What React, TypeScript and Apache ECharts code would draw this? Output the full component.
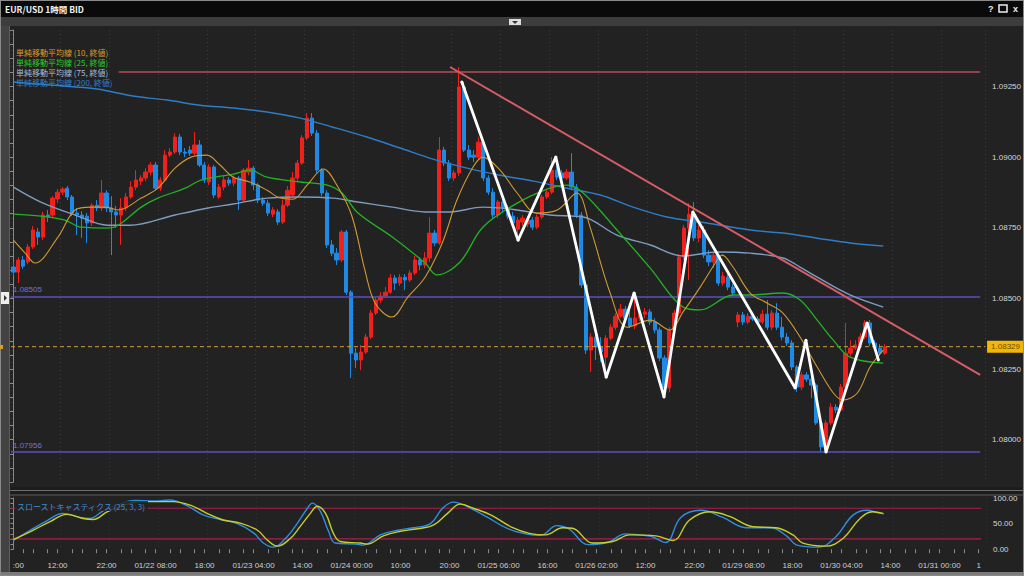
import React, { useEffect, useRef } from "react";
import * as echarts from "echarts";

const SLOTS = 199;
const tickIdx = [1, 9, 19, 29, 39, 49, 59, 69, 79, 89, 99, 109, 119, 129, 139, 149, 159, 169, 179, 189, 197];
const tickText = [":00", "12:00", "22:00", "01/22 08:00", "18:00", "01/23 04:00", "14:00", "01/24 00:00", "10:00", "20:00", "01/25 06:00", "16:00", "01/26 02:00", "12:00", "22:00", "01/29 08:00", "18:00", "01/30 04:00", "14:00", "01/31 00:00", "1"];

// [open, close, low, high]
const candles = [
  [1.08611, 1.08593, 1.08579, 1.08629], [1.08593, 1.08636, 1.08554, 1.08646], [1.08636, 1.08614, 1.08604, 1.0865], [1.08629, 1.08682, 1.08621, 1.08692],
  [1.08682, 1.08742, 1.08675, 1.08756], [1.08735, 1.08717, 1.08689, 1.08749], [1.08717, 1.08795, 1.08706, 1.08806], [1.08795, 1.08788, 1.0877, 1.08813],
  [1.08795, 1.08855, 1.08784, 1.08862], [1.08852, 1.08876, 1.08837, 1.08887], [1.08876, 1.08887, 1.08866, 1.08894], [1.0889, 1.08859, 1.08848, 1.08898],
  [1.08859, 1.08802, 1.08791, 1.08866], [1.08802, 1.08795, 1.08724, 1.0882], [1.08795, 1.08784, 1.08714, 1.08809], [1.08791, 1.08767, 1.08696, 1.08802],
  [1.08767, 1.0883, 1.08756, 1.08837], [1.0883, 1.0882, 1.08809, 1.08848], [1.0882, 1.08873, 1.08809, 1.08919], [1.08873, 1.0882, 1.08806, 1.08883],
  [1.0882, 1.08806, 1.08653, 1.08862], [1.08806, 1.08795, 1.08749, 1.08827], [1.08795, 1.0882, 1.08689, 1.08855], [1.0882, 1.08859, 1.08809, 1.08873],
  [1.08859, 1.08894, 1.08852, 1.08915], [1.08894, 1.08919, 1.08883, 1.08954], [1.08915, 1.08926, 1.08901, 1.08936], [1.08926, 1.08947, 1.08915, 1.08961],
  [1.08947, 1.08972, 1.08936, 1.08983], [1.08972, 1.0889, 1.08883, 1.08983], [1.0889, 1.08919, 1.0888, 1.08929], [1.08919, 1.09007, 1.08912, 1.09025],
  [1.09007, 1.09018, 1.09, 1.09032], [1.09018, 1.09071, 1.09011, 1.09085], [1.09071, 1.09018, 1.09007, 1.09082], [1.09018, 1.09014, 1.09, 1.09032],
  [1.09025, 1.09014, 1.09004, 1.09039], [1.09014, 1.09043, 1.09004, 1.09089], [1.09043, 1.08972, 1.08965, 1.0906], [1.08972, 1.08919, 1.08908, 1.08983],
  [1.08912, 1.08965, 1.08901, 1.08975], [1.08965, 1.08866, 1.08855, 1.08972], [1.08859, 1.08894, 1.08852, 1.08905], [1.08894, 1.08919, 1.08883, 1.08933],
  [1.08919, 1.08908, 1.08898, 1.08929], [1.08908, 1.08926, 1.08898, 1.08936], [1.08926, 1.08848, 1.08813, 1.08933], [1.08848, 1.08954, 1.08841, 1.08961],
  [1.08947, 1.08961, 1.08936, 1.0899], [1.08961, 1.08901, 1.08883, 1.08968], [1.08901, 1.08848, 1.08837, 1.08908], [1.08848, 1.08837, 1.08827, 1.08859],
  [1.08837, 1.08802, 1.08791, 1.08848], [1.08798, 1.08813, 1.08788, 1.08823], [1.08806, 1.0877, 1.0876, 1.08816], [1.0877, 1.0883, 1.08763, 1.08848],
  [1.0883, 1.08883, 1.08823, 1.08898], [1.08866, 1.08926, 1.08859, 1.08947], [1.08926, 1.08979, 1.08915, 1.0899], [1.08979, 1.09068, 1.08972, 1.09078],
  [1.09068, 1.09138, 1.0906, 1.09156], [1.09138, 1.09085, 1.09075, 1.09156], [1.09085, 1.08954, 1.08944, 1.09096], [1.08954, 1.08873, 1.08862, 1.08961],
  [1.08873, 1.08689, 1.08678, 1.08883], [1.08689, 1.0866, 1.0865, 1.08706], [1.0866, 1.08636, 1.08618, 1.08678], [1.08636, 1.08735, 1.08629, 1.08742],
  [1.08735, 1.08522, 1.08512, 1.08742], [1.08522, 1.08306, 1.08218, 1.08529], [1.08306, 1.08282, 1.08253, 1.08324], [1.08282, 1.0831, 1.08246, 1.08335],
  [1.0831, 1.08363, 1.08303, 1.08374], [1.08363, 1.08448, 1.08356, 1.08459], [1.08448, 1.08494, 1.08441, 1.08505], [1.08494, 1.08508, 1.08483, 1.08522],
  [1.08508, 1.08522, 1.08501, 1.0854], [1.08522, 1.08572, 1.08515, 1.08586], [1.08572, 1.08554, 1.08529, 1.08583], [1.08554, 1.08575, 1.08544, 1.08586],
  [1.08575, 1.08565, 1.08529, 1.08586], [1.08565, 1.0859, 1.08558, 1.086], [1.0859, 1.08636, 1.08583, 1.0865], [1.08636, 1.08618, 1.086, 1.08646],
  [1.08618, 1.08643, 1.08607, 1.08664], [1.08643, 1.08731, 1.08629, 1.08788], [1.08731, 1.08696, 1.08685, 1.08742], [1.08696, 1.09025, 1.08689, 1.09071],
  [1.09025, 1.08979, 1.08968, 1.09036], [1.08979, 1.08926, 1.08915, 1.0899], [1.08926, 1.08944, 1.08915, 1.08954], [1.08944, 1.09248, 1.08933, 1.09319],
  [1.09248, 1.09025, 1.09018, 1.09266], [1.09025, 1.09, 1.0899, 1.09043], [1.09007, 1.09, 1.08983, 1.09025], [1.09, 1.09053, 1.0899, 1.09071],
  [1.09053, 1.08926, 1.08915, 1.0906], [1.08926, 1.08876, 1.08866, 1.08936], [1.08876, 1.08795, 1.08784, 1.0889], [1.08795, 1.08841, 1.08784, 1.08848],
  [1.08841, 1.0882, 1.08809, 1.08852], [1.0882, 1.08791, 1.08781, 1.0883], [1.08791, 1.08767, 1.08756, 1.08806], [1.08745, 1.08777, 1.08706, 1.08788],
  [1.0877, 1.08784, 1.08756, 1.08795], [1.08763, 1.08777, 1.08752, 1.08791], [1.08777, 1.08752, 1.08742, 1.08788], [1.08752, 1.08788, 1.08745, 1.08798],
  [1.08788, 1.08859, 1.08781, 1.08866], [1.08859, 1.08876, 1.08852, 1.08887], [1.08876, 1.08954, 1.08869, 1.09], [1.08954, 1.08929, 1.08919, 1.08968],
  [1.08944, 1.08926, 1.08915, 1.08954], [1.08926, 1.08947, 1.08919, 1.08958], [1.08947, 1.08894, 1.08883, 1.09014], [1.08894, 1.08795, 1.08784, 1.08905],
  [1.08795, 1.08547, 1.08537, 1.08806], [1.08547, 1.08317, 1.08303, 1.08558], [1.08317, 1.08363, 1.08239, 1.08377], [1.08363, 1.08328, 1.08282, 1.08377],
  [1.08328, 1.0831, 1.08275, 1.08363], [1.08292, 1.08359, 1.08221, 1.0837], [1.08359, 1.08398, 1.08352, 1.08409], [1.08398, 1.08437, 1.08388, 1.08448],
  [1.08437, 1.08462, 1.0843, 1.0848], [1.08462, 1.0843, 1.08423, 1.08473], [1.0843, 1.08402, 1.08395, 1.08476], [1.08402, 1.0843, 1.08391, 1.08515],
  [1.0843, 1.08444, 1.0842, 1.08455], [1.08444, 1.08452, 1.0843, 1.08466], [1.08452, 1.08416, 1.08406, 1.08462], [1.08416, 1.08388, 1.08377, 1.0843],
  [1.08388, 1.08289, 1.08278, 1.08398], [1.08289, 1.08183, 1.08147, 1.08299], [1.08183, 1.08388, 1.08168, 1.08398], [1.08388, 1.08448, 1.08377, 1.08459],
  [1.08448, 1.08646, 1.08437, 1.08657], [1.08646, 1.08749, 1.08636, 1.0876], [1.08749, 1.08798, 1.08565, 1.08837], [1.08798, 1.08714, 1.08703, 1.08841],
  [1.08714, 1.08742, 1.08699, 1.0876], [1.08742, 1.08653, 1.08643, 1.08756], [1.08653, 1.08629, 1.08614, 1.08671], [1.08629, 1.08653, 1.08607, 1.08664],
  [1.08653, 1.08554, 1.08544, 1.08664], [1.08554, 1.08579, 1.08544, 1.08593], [1.08575, 1.0854, 1.08529, 1.08586], [1.0854, 1.08519, 1.08508, 1.08551],
  [1.08416, 1.08441, 1.08398, 1.08452], [1.08441, 1.08416, 1.08406, 1.08452], [1.08416, 1.08437, 1.08409, 1.08448], [1.08437, 1.08427, 1.0842, 1.08448],
  [1.08427, 1.08416, 1.08409, 1.08437], [1.08416, 1.08444, 1.08409, 1.08459], [1.08444, 1.08398, 1.08388, 1.08494], [1.08398, 1.08448, 1.08388, 1.08459],
  [1.08448, 1.08398, 1.08388, 1.08483], [1.08398, 1.08363, 1.08352, 1.08434], [1.08363, 1.08342, 1.08331, 1.08377], [1.08342, 1.08257, 1.08246, 1.08352],
  [1.08257, 1.08186, 1.08168, 1.08264], [1.08186, 1.08229, 1.08175, 1.08239], [1.08229, 1.08214, 1.08204, 1.08239], [1.08214, 1.08193, 1.08147, 1.08225],
  [1.08193, 1.08059, 1.08052, 1.082], [1.08059, 1.07974, 1.07956, 1.08069], [1.07974, 1.08059, 1.07956, 1.08069], [1.08059, 1.08115, 1.08052, 1.08129],
  [1.08115, 1.08105, 1.08094, 1.08126], [1.08105, 1.08186, 1.08098, 1.08197], [1.08186, 1.08306, 1.08179, 1.08413], [1.08306, 1.08324, 1.08296, 1.08352],
  [1.08324, 1.08335, 1.08317, 1.08352], [1.08335, 1.08363, 1.08321, 1.08377], [1.08363, 1.08413, 1.08356, 1.08423], [1.08413, 1.08342, 1.08331, 1.08423],
  [1.08342, 1.08324, 1.08314, 1.08352], [1.08324, 1.08306, 1.08296, 1.08338], [1.08306, 1.08328, 1.08299, 1.08338],
];

// moving averages: [slot index, price]
const ma10 = [[0, 1.08706], [2.4, 1.0866], [4.4, 1.08625], [9.1, 1.08717], [12.6, 1.08813], [15.8, 1.08823], [18.7, 1.08823], [21.4, 1.08813], [26.1, 1.08855], [29.5, 1.0889], [33, 1.08961], [36.3, 1.09], [39.5, 1.09007], [42.2, 1.08972], [44.9, 1.08929], [48.3, 1.08912], [51.8, 1.08883], [54.5, 1.08855], [57.1, 1.08851], [60, 1.08901], [63.3, 1.08958], [66.3, 1.08894], [69.2, 1.08788], [71.8, 1.086], [73.9, 1.08483], [77.3, 1.08434], [80.6, 1.08505], [84.1, 1.08575], [87.6, 1.08696], [90.6, 1.08848], [93.9, 1.08965], [95.9, 1.09], [99.4, 1.08954], [102.9, 1.08873], [106.9, 1.08802], [111.1, 1.08813], [115.1, 1.08873], [117.8, 1.08752], [121.9, 1.08519], [125.4, 1.08398], [130.1, 1.08423], [134.1, 1.08388], [136.8, 1.08452], [140.3, 1.0854], [143.8, 1.08636], [144.8, 1.08653], [147, 1.08611], [150.5, 1.08519], [154, 1.08483], [157.2, 1.08448], [160.7, 1.08363], [164.2, 1.08257], [167.5, 1.08165], [169.5, 1.0814], [172.4, 1.08165], [175, 1.08257], [177.7, 1.08317]];
const ma25 = [[0, 1.08798], [5.6, 1.08791], [10.5, 1.08777], [13.8, 1.08752], [19.3, 1.08749], [21.4, 1.08759], [26.1, 1.08823], [29.5, 1.08855], [35.1, 1.0889], [38.3, 1.08919], [44.9, 1.0894], [48.3, 1.08954], [51.8, 1.08929], [58.6, 1.08912], [64.1, 1.08901], [67.1, 1.08873], [70.4, 1.08802], [77.4, 1.08717], [84.1, 1.08625], [86.5, 1.08583], [91.2, 1.08628], [95.9, 1.08752], [102.9, 1.08837], [109.6, 1.0889], [113.1, 1.08901], [116.4, 1.08873], [123.3, 1.08742], [130.1, 1.08607], [136.8, 1.08469], [140.3, 1.08459], [147, 1.08512], [150.5, 1.08512], [157.2, 1.08519], [160.7, 1.08494], [164.2, 1.08423], [167.5, 1.08352], [170.9, 1.08292], [177.7, 1.08271]];
const ma75 = [[0, 1.08894], [5.6, 1.08841], [12.6, 1.08795], [19.3, 1.08759], [23.8, 1.08759], [33, 1.08795], [39.8, 1.0882], [44.9, 1.08834], [51.8, 1.08855], [58.6, 1.08859], [65.3, 1.08855], [70.4, 1.08841], [77.4, 1.08823], [84.1, 1.08806], [89.2, 1.08806], [95.9, 1.08823], [102.9, 1.08813], [109.6, 1.08795], [116.4, 1.08788], [123.3, 1.08724], [130.1, 1.08689], [136.8, 1.0865], [143.8, 1.08664], [150.5, 1.0866], [157.2, 1.08643], [160.7, 1.08611], [164.2, 1.08575], [170.9, 1.08512], [177.7, 1.08469]];
const ma200 = [[0, 1.09266], [7.5, 1.09255], [17.1, 1.09241], [24.4, 1.09216], [31.4, 1.09202], [38.1, 1.09184], [44.9, 1.09174], [51.8, 1.0916], [58.6, 1.09138], [65.3, 1.09106], [72.2, 1.09071], [79, 1.09032], [85.7, 1.08993], [92.7, 1.08961], [99.4, 1.08936], [106.2, 1.08915], [113.1, 1.0889], [119.9, 1.08866], [126.6, 1.08823], [133.5, 1.08788], [140.3, 1.0877], [150.5, 1.08742], [157.2, 1.08731], [164.2, 1.08713], [170.9, 1.08696], [177.7, 1.08685]];

// slow stochastics: [slot index, value]
const stochK = [[0, 17], [3.4, 37], [6.9, 56], [10.1, 70], [13.6, 62], [15.6, 60], [18.3, 75], [20.8, 85], [24.8, 95], [28.9, 94], [31.9, 96], [35.4, 85], [38.7, 67], [42.2, 58], [45.7, 50], [49, 32], [51, 12], [53, 4], [55.9, 25], [57.9, 50], [60, 80], [61, 90], [62.6, 75], [64.3, 35], [65.7, 12], [69.8, 10], [71.4, 8], [74.9, 28], [78.4, 37], [81.6, 42], [85.1, 50], [87.6, 80], [89.8, 92], [93.3, 80], [96.8, 62], [100.9, 40], [104.5, 30], [107.6, 27], [110.9, 46], [113.3, 40], [117.4, 9], [121.5, 14], [124.9, 30], [130.1, 25], [133.1, 13], [136.2, 62], [140.3, 76], [144.8, 62], [149.5, 42], [154.6, 42], [157.9, 25], [159.9, 8], [164.4, 4], [167.9, 25], [171.3, 66], [174.2, 76], [176.5, 71], [177.7, 69]];
const stochD = [[0, 19], [4, 37], [7.5, 54], [10.9, 68], [14.2, 60], [16.3, 58], [19.1, 73], [21.8, 83], [25.9, 93], [29.3, 93], [32.6, 93], [36.1, 86], [39.5, 70], [42.8, 57], [46.3, 51], [49.8, 37], [51.8, 18], [53.9, 6], [56.5, 21], [58.5, 44], [60.6, 70], [62, 84], [63.7, 70], [65.3, 31], [66.7, 15], [70.8, 12], [72.2, 10], [75.5, 26], [79, 35], [82.5, 40], [85.7, 47], [88.6, 70], [91.2, 88], [93.9, 80], [97.4, 67], [101.9, 42], [105.3, 31], [108.6, 28], [112.1, 42], [114.1, 41], [118.2, 12], [122.3, 15], [125.8, 28], [131.1, 26], [134.6, 17], [138, 57], [142.1, 73], [146.2, 64], [150.9, 44], [155.6, 42], [159.1, 28], [161.1, 12], [165.8, 6], [169.3, 21], [172.8, 60], [175.4, 73], [177.5, 70]];
const stochLevels = [80, 20];

// drawn objects
const resistance = 1.09301;
const supportHi = 1.08505;
const supportLo = 1.07956;
const lastPrice = 1.08329;
const trendLine = [[89.2, 1.09319], [197.5, 1.08229]];
const zigzag = [[91.6, 1.09266], [103.1, 1.08706], [110.8, 1.09], [121.1, 1.08221], [126.8, 1.08519], [132.9, 1.08151], [138.8, 1.08806], [159.7, 1.08183], [161.9, 1.08352], [166, 1.07956], [174.4, 1.08413], [176.7, 1.08282]];
const legendNames = ["単純移動平均線 (10, 終値)", "単純移動平均線 (25, 終値)", "単純移動平均線 (75, 終値)", "単純移動平均線 (200, 終値)"];
const legendColors = ["#dc9e30", "#2fcb2f", "#a6bcdc", "#2f80d0"];

const FONT = "'Liberation Sans', 'Noto Sans CJK JP', sans-serif";
const JFONT = "'Noto Sans CJK JP', sans-serif";

export default function App() {
  const ref = useRef<HTMLDivElement>(null);
  useEffect(() => {
    if (!ref.current) return;
    const chart = echarts.init(ref.current, null, { renderer: "svg" });
    const cats = Array.from({ length: SLOTS }, (_, i) => String(i));
    const labelMap: Record<number, string> = {};
    tickIdx.forEach((t, i) => (labelMap[t] = tickText[i]));

    const maLine = (pts: number[][], color: string, width: number) => ({
      type: "line", xAxisIndex: 1, yAxisIndex: 0, data: pts, smooth: 0.35, symbol: "none",
      lineStyle: { color, width }, silent: true, z: 4,
    });
    const level = (y: number, x0: number, x1: number, color: string, width: number, label?: string) => ({
      type: "line", xAxisIndex: 1, yAxisIndex: 0, symbol: "circle", symbolSize: 0, showSymbol: true, silent: true, z: 3,
      data: [
        label
          ? { value: [x0, y], label: { show: true, position: [2, -11], align: "left", verticalAlign: "top", formatter: label, color: "#7a70d4", fontSize: 8, fontFamily: FONT } }
          : [x0, y],
        [x1, y],
      ],
      lineStyle: { color, width },
      itemStyle: { color },
    });

    const graphics: any[] = [
      { type: "rect", shape: { x: 0, y: 0, width: 1024, height: 17 }, style: { fill: "#0a0a0a" }, z: 100 },
      { type: "rect", shape: { x: 0, y: 0, width: 1024, height: 1 }, style: { fill: "#9a9a9a" }, z: 101 },
      { type: "text", x: 5, y: 9, style: { text: "EUR/USD 1時間 BID", fill: "#f2f2f2", fontSize: 8.5, fontWeight: "bold", fontFamily: JFONT, verticalAlign: "middle" }, z: 101 },
      { type: "text", x: 988, y: 9, style: { text: "?", fill: "#eeeeee", fontSize: 9, fontWeight: "bold", fontFamily: FONT, verticalAlign: "middle" }, z: 101 },
      { type: "rect", shape: { x: 999, y: 5, width: 8, height: 7 }, style: { fill: "none", stroke: "#eeeeee", lineWidth: 1.5 }, z: 101 },
      { type: "text", x: 1013, y: 9, style: { text: "x", fill: "#eeeeee", fontSize: 9, fontWeight: "bold", fontFamily: FONT, verticalAlign: "middle" }, z: 101 },
      { type: "rect", shape: { x: 0, y: 17, width: 1024, height: 9 }, style: { fill: "#3d3d3d" }, z: 100 },
      { type: "rect", shape: { x: 509, y: 19, width: 12, height: 6 }, style: { fill: "#dcdcdc" }, z: 101 },
      { type: "polygon", shape: { points: [[512, 21], [518, 21], [515, 24]] }, style: { fill: "#333333" }, z: 102 },
      { type: "rect", shape: { x: 0, y: 26, width: 9, height: 548 }, style: { fill: "#434343" }, z: 100 },
      { type: "rect", shape: { x: 9, y: 26, width: 1, height: 548 }, style: { fill: "#5c5c5c" }, z: 100 },
      { type: "rect", shape: { x: 1, y: 292, width: 8, height: 12 }, style: { fill: "#eeeeee" }, z: 101 },
      { type: "polygon", shape: { points: [[4, 295], [7, 298], [4, 301]] }, style: { fill: "#333333" }, z: 102 },
      { type: "rect", shape: { x: 10, y: 487, width: 1014, height: 9 }, style: { fill: "#1c1c1c" }, z: 100 },
      { type: "rect", shape: { x: 10, y: 490, width: 1014, height: 1 }, style: { fill: "#707070" }, z: 101 },
      { type: "rect", shape: { x: 10, y: 494.5, width: 1014, height: 1 }, style: { fill: "#5e5e5e" }, z: 101 },
      { type: "rect", shape: { x: 0, y: 572, width: 1024, height: 4 }, style: { fill: "#7a7a7a" }, z: 100 },
      { type: "rect", shape: { x: 0.5, y: 0.5, width: 1023, height: 575 }, style: { fill: "none", stroke: "#8a8a8a", lineWidth: 1 }, z: 102 },
      { type: "rect", shape: { x: 0, y: 345, width: 3, height: 4 }, style: { fill: "#d8a020" }, z: 102 },
      ...legendNames.map((t, i) => ({
        type: "text", x: 16, y: 52 + i * 10,
        style: { text: t, fill: legendColors[i], fontSize: 8, fontFamily: JFONT, verticalAlign: "middle" }, z: 50,
      })),
      {
        type: "text", x: 15, y: 506,
        style: { text: "スローストキャスティクス (25, 3, 3)", fill: "#3a8fd6", fontSize: 8, fontFamily: JFONT, verticalAlign: "middle", backgroundColor: "rgba(34,34,34,0.85)", padding: [1, 2] }, z: 50,
      },
    ];

    const option: any = {
      animation: false,
      backgroundColor: "#222222",
      textStyle: { fontFamily: FONT },
      grid: [
        { left: 11, right: 38, top: 30, height: 452 },
        { left: 11, right: 38, top: 498, height: 51.2 },
      ],
      xAxis: [
        {
          type: "category", gridIndex: 0, data: cats, boundaryGap: true,
          axisLine: { show: false }, axisTick: { show: false }, axisLabel: { show: false },
          splitLine: { show: true, interval: (i: number) => i % 10 === 0, lineStyle: { color: "#3b3b3b", type: [1, 3] } },
        },
        { type: "value", gridIndex: 0, min: -0.5, max: SLOTS - 0.5, show: false },
        {
          type: "category", gridIndex: 1, data: cats, boundaryGap: true, position: "bottom", offset: 4,
          axisLine: { show: false },
          axisTick: { show: true, alignWithLabel: true, length: 4, interval: (i: number) => i % 5 === 2 || i % 5 === 4, lineStyle: { color: "#8a8a8a" } },
          axisLabel: {
            interval: (i: number) => labelMap[i] !== undefined,
            formatter: (v: string) => labelMap[Number(v)] || "",
            color: "#cfcfcf", fontSize: 8, margin: 8, fontFamily: FONT,
          },
          splitLine: { show: true, interval: (i: number) => i % 10 === 0, lineStyle: { color: "#333333", type: [1, 3] } },
        },
        { type: "value", gridIndex: 1, min: -0.5, max: SLOTS - 0.5, show: false },
      ],
      yAxis: [
        {
          type: "value", gridIndex: 0, position: "right", min: 1.0785, max: 1.0945, interval: 0.0005,
          axisLine: { show: true, lineStyle: { color: "#8a8a8a" } },
          axisTick: { show: true, inside: true, length: 4, lineStyle: { color: "#8a8a8a" } },
          axisLabel: {
            color: "#d6d6d6", fontSize: 8, margin: 7, fontFamily: FONT,
            formatter: (v: number) => (Math.round(v * 10000) % 25 === 0 ? v.toFixed(5) : ""),
          },
          splitLine: { show: false },
        },
        {
          type: "value", gridIndex: 1, position: "right", min: 0, max: 100, interval: 10,
          axisLine: { show: true, lineStyle: { color: "#8a8a8a" } },
          axisTick: { show: true, inside: true, length: 3, lineStyle: { color: "#8a8a8a" } },
          axisLabel: {
            color: "#d6d6d6", fontSize: 8, margin: 7, fontFamily: FONT,
            formatter: (v: number) => (v % 50 === 0 ? v.toFixed(2) : ""),
          },
          splitLine: { show: false },
        },
      ],
      series: [
        level(resistance, 21.5, 197.5, "#b84e57", 1.5),
        level(supportHi, -0.5, 197.5, "#5a4fbc", 1.5, supportHi.toFixed(5)),
        level(supportLo, -0.5, 197.5, "#5a4fbc", 1.5, supportLo.toFixed(5)),
        {
          type: "line", xAxisIndex: 1, yAxisIndex: 0, symbol: "none", silent: true, z: 3,
          data: [[-0.5, lastPrice], [SLOTS - 0.5, lastPrice]],
          lineStyle: { color: "#c9a03a", width: 1, type: [4, 3] },
          endLabel: { show: true, formatter: lastPrice.toFixed(5), backgroundColor: "#f2b705", color: "#6b4e00", fontSize: 8, padding: [2, 4], distance: 2, fontFamily: FONT },
        },
        {
          type: "candlestick", xAxisIndex: 0, yAxisIndex: 0, data: candles, barWidth: "76%", silent: true, z: 2,
          itemStyle: { color: "#f0201c", color0: "#1f8ae6", borderColor: "#f0201c", borderColor0: "#1f8ae6", borderWidth: 1 },
        },
        maLine(ma200, "#2f7cc6", 1.5),
        maLine(ma75, "#7d9cbf", 1.4),
        maLine(ma25, "#22b322", 1.3),
        maLine(ma10, "#cf9a35", 1.1),
        {
          type: "line", xAxisIndex: 1, yAxisIndex: 0, symbol: "none", silent: true, z: 5,
          data: trendLine, lineStyle: { color: "#d65c66", width: 2 },
        },
        {
          type: "line", xAxisIndex: 1, yAxisIndex: 0, symbol: "circle", symbolSize: 3, silent: true, z: 6,
          data: zigzag, lineStyle: { color: "#ffffff", width: 2.8 }, itemStyle: { color: "#ffffff" },
        },
        ...stochLevels.map((v) => ({
          type: "line", xAxisIndex: 3, yAxisIndex: 1, symbol: "none", silent: true, z: 2,
          data: [[-0.5, v], [197.5, v]], lineStyle: { color: "#a8204c", width: 1.2 },
        })),
        {
          type: "line", xAxisIndex: 3, yAxisIndex: 1, symbol: "none", smooth: 0.4, silent: true, z: 3,
          data: stochK, lineStyle: { color: "#2d8fe0", width: 1.4 },
        },
        {
          type: "line", xAxisIndex: 3, yAxisIndex: 1, symbol: "none", smooth: 0.4, silent: true, z: 4,
          data: stochD, lineStyle: { color: "#c8cf2a", width: 1.4 },
        },
      ],
      graphic: graphics,
    };
    chart.setOption(option);
    return () => chart.dispose();
  }, []);
  return <div ref={ref} style={{ position: "fixed", left: 0, top: 0, width: 1024, height: 576 }} />;
}
